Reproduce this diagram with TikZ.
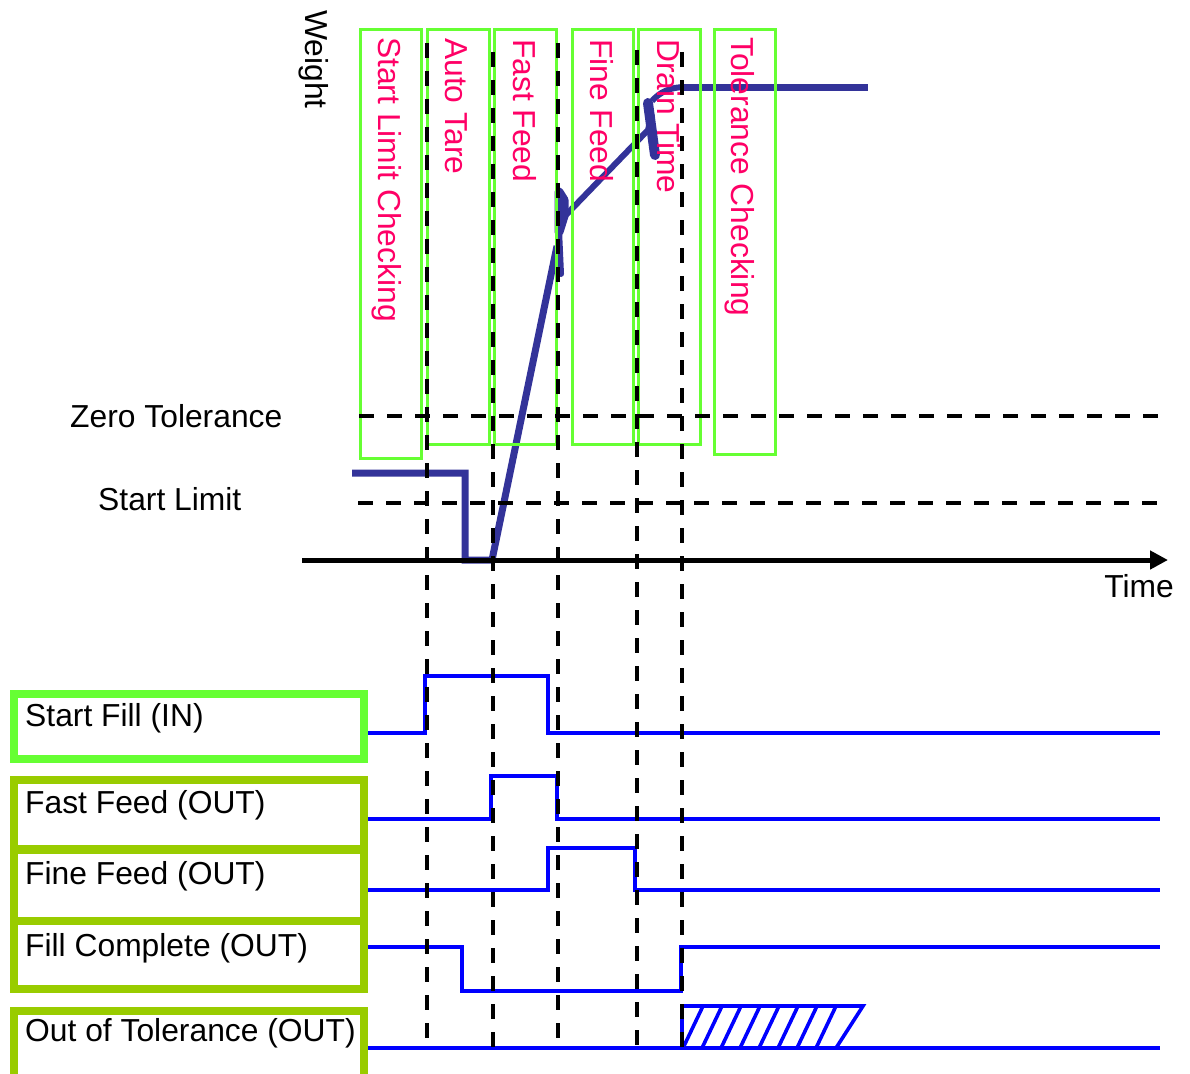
\documentclass[tikz,border=0pt]{standalone}
\usepackage{fontspec}
\setmainfont{Liberation Sans}
\usetikzlibrary{arrows.meta}
\definecolor{phase}{HTML}{66FF33}
\definecolor{grp}{HTML}{99CC00}
\definecolor{curve}{HTML}{333399}
\definecolor{sig}{HTML}{0000FF}
\definecolor{ptext}{HTML}{FF0066}
\begin{document}
\begin{tikzpicture}[x=1pt,y=-1pt,
  font=\fontsize{31.8}{38}\selectfont,
  phasebox/.style={draw=phase, line width=3pt},
  phaselbl/.style={text=ptext, rotate=-90, anchor=base west, inner sep=0pt},
  dashln/.style={draw=black, line width=3.6pt, dash pattern=on 15pt off 13pt},
  wcurve/.style={draw=curve, line width=7pt},
  sigln/.style={draw=sig, line width=3.6pt},
  lbl/.style={anchor=base west, inner sep=0pt},
  inbox/.style={draw=phase, line width=8pt},
  outbox/.style={draw=grp, line width=8pt}]
\useasboundingbox (0,0) rectangle (1190,1073);
\fill[white] (0,0) rectangle (1190,1073);

% weight curve
\draw[wcurve] (352,473) -- (465,473) -- (465,560) -- (492,560) -- (557,246);
\draw[wcurve, line width=6pt, line join=round, line cap=round] (561,274) -- (559,230);
\draw[wcurve, line width=9pt, line join=round, line cap=round] (559,232) -- (559,192) -- (564,200) -- (564,216) -- cycle;
\draw[wcurve, line width=6pt] (564,217) -- (648,130) -- (652,114);
\draw[wcurve, line width=10pt, line cap=round] (648,103) -- (655,155);
\draw[wcurve, line width=6pt] (652,101) .. controls (660,92) and (670,87) .. (686,87);
\draw[wcurve] (684,87) -- (868,87);

% time axis
\draw[line width=5pt, -{Triangle[length=18pt,width=18pt]}] (302,560) -- (1168,560);

% signals
\draw[sigln] (368,733) -| (425,676) -| (548,733) -- (1160,733);
\draw[sigln] (368,819) -| (491,776) -| (557,819) -- (1160,819);
\draw[sigln] (368,890) -| (548,848) -| (635,890) -- (1160,890);
\draw[sigln] (365,947) -| (462,991) -| (681,947) -- (1160,947);
\draw[sigln] (368,1048) -- (1160,1048);
\draw[sigln] (682,1048) -- (682,1006) -- (863,1006) -- (836,1048);
\foreach \k in {0,...,7}
  \draw[sigln] ({683+19*\k},1048) -- ({703+19*\k},1006);

% phase boxes
\draw[phasebox] (360,30) rectangle (421,458);
\draw[phasebox] (427,30) rectangle (489,444);
\draw[phasebox] (494,30) rectangle (556,444);
\draw[phasebox] (572,30) rectangle (633,444);
\draw[phasebox] (638,30) rectangle (700,444);
\draw[phasebox] (714,30) rectangle (775,454);

% dashed level lines
\draw[dashln] (359,416) -- (1160,416);
\draw[dashln] (358,503) -- (1160,503);

% dashed time markers
\draw[dashln] (427,43) -- (427,1050);
\draw[dashln] (493,52) -- (493,1050);
\draw[dashln] (558,43) -- (558,1050);
\draw[dashln] (637,50) -- (637,1050);
\draw[dashln] (682,52) -- (682,1050);

% signal label boxes
\draw[inbox] (14,694) rectangle (363.5,759);
\draw[outbox] (14,780) rectangle (363.5,848.5);
\draw[outbox] (14,849.5) rectangle (363.5,920.5);
\draw[outbox] (14,921) rectangle (363.5,989);
\draw[outbox] (14,1010.5) rectangle (363.5,1090);

% texts
\node[rotate=-90, anchor=base west, inner sep=0pt] (weight) at (305,10) {Weight};
\node[phaselbl] (slc) at (378,37) {Start Limit Checking};
\node[phaselbl] (at) at (445,38) {Auto Tare};
\node[phaselbl] (ff) at (513,39) {Fast Feed};
\node[phaselbl] (fif) at (590,39) {Fine Feed};
\node[phaselbl] (dt) at (657,39) {Drain Time};
\node[phaselbl] (tc) at (731,37) {Tolerance Checking};
\node[lbl] (zt) at (70,427) {Zero Tolerance};
\node[lbl] (sl) at (98,510) {Start Limit};
\node[anchor=base east, inner sep=0pt] (time) at (1174,597) {Time};
\node[lbl] (sfin) at (25,726) {Start Fill (IN)};
\node[lbl] (ffout) at (25,813) {Fast Feed (OUT)};
\node[lbl] (fifout) at (25,884) {Fine Feed (OUT)};
\node[lbl] (fcout) at (25,956) {Fill Complete (OUT)};
\node[lbl] (otout) at (25,1041) {Out of Tolerance (OUT)};
\end{tikzpicture}
\end{document}
